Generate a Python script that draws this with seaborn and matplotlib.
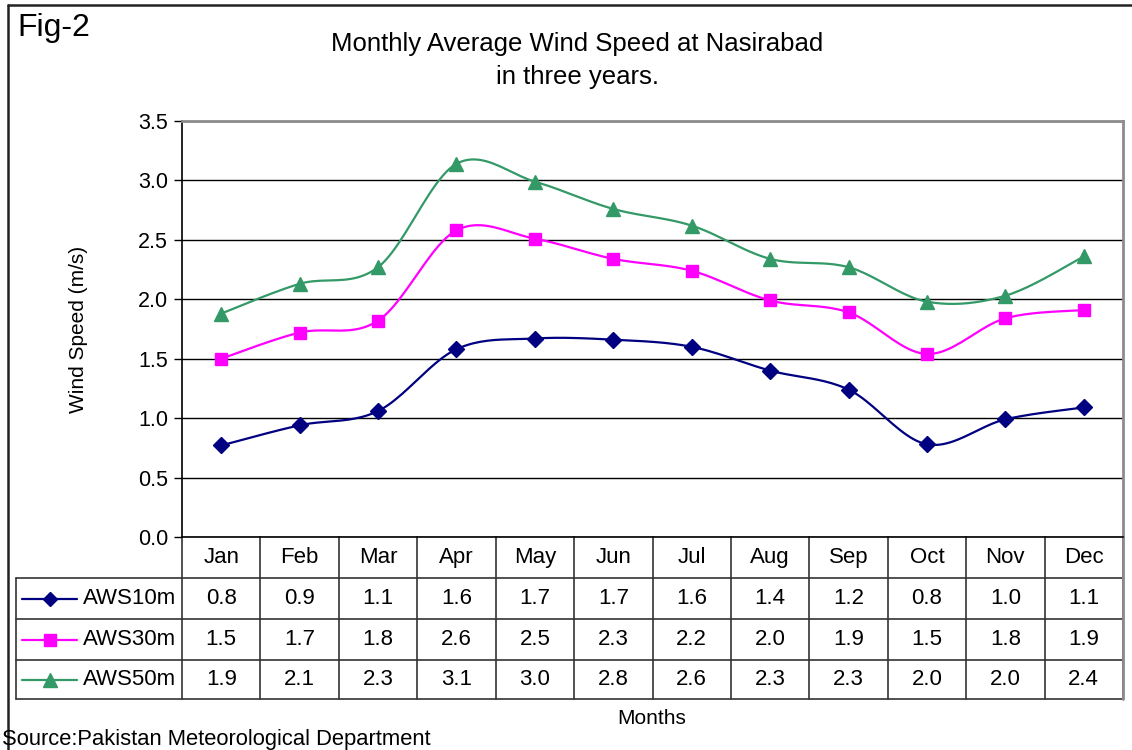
import numpy as np
import matplotlib
matplotlib.use("Agg")
import matplotlib.pyplot as plt
import matplotlib.transforms as mtransforms
import seaborn as sns

months = ["Jan", "Feb", "Mar", "Apr", "May", "Jun", "Jul", "Aug", "Sep", "Oct", "Nov", "Dec"]
aws10 = [0.77, 0.94, 1.06, 1.58, 1.67, 1.66, 1.60, 1.40, 1.24, 0.78, 0.99, 1.09]
aws30 = [1.50, 1.72, 1.82, 2.58, 2.51, 2.34, 2.24, 1.99, 1.89, 1.54, 1.84, 1.91]
aws50 = [1.88, 2.13, 2.27, 3.14, 2.99, 2.76, 2.62, 2.34, 2.27, 1.98, 2.03, 2.36]
series_names = ["AWS10m", "AWS30m", "AWS50m"]
series_vals = [aws10, aws30, aws50]
series_colors = ["#000080", "#FF00FF", "#339966"]
series_markers = ["D", "s", "^"]
yticks = [0.0, 0.5, 1.0, 1.5, 2.0, 2.5, 3.0, 3.5]

sns.set_theme(style="white")
plt.rcParams["font.family"] = ["Liberation Sans", "DejaVu Sans"]
plt.rcParams["text.color"] = "black"
plt.rcParams["axes.labelcolor"] = "black"
plt.rcParams["ytick.color"] = "black"

W, H = 1132, 750
fig = plt.figure(figsize=(W / 100, H / 100), dpi=100)

def rect(x0, y0, x1, y1):
    return [x0 / W, 1 - y1 / H, (x1 - x0) / W, (y1 - y0) / H]

# overlay in pixel coordinates for frame, table and texts
ov = fig.add_axes([0, 0, 1, 1], zorder=0)
ov.set_xlim(0, W)
ov.set_ylim(H, 0)
ov.axis("off")

ax = fig.add_axes(rect(182, 121, 1123, 537), zorder=2)
ax.patch.set_alpha(0)


def smooth(y, n=24):
    # Excel-style smoothed line (bezier with 1/6 tangents)
    x = np.arange(len(y), dtype=float)
    y = np.asarray(y, dtype=float)
    px = np.concatenate([[x[0]], x, [x[-1]]])
    py = np.concatenate([[y[0]], y, [y[-1]]])
    t = np.linspace(0, 1, n)
    xs, ys = [], []
    for i in range(1, len(px) - 2):
        p0 = np.array([px[i], py[i]])
        p3 = np.array([px[i + 1], py[i + 1]])
        c1 = p0 + (np.array([px[i + 1], py[i + 1]]) - np.array([px[i - 1], py[i - 1]])) / 6
        c2 = p3 - (np.array([px[i + 2], py[i + 2]]) - p0) / 6
        b = ((1 - t) ** 3)[:, None] * p0 + (3 * (1 - t) ** 2 * t)[:, None] * c1 \
            + (3 * (1 - t) * t ** 2)[:, None] * c2 + (t ** 3)[:, None] * p3
        xs.append(b[:, 0])
        ys.append(b[:, 1])
    return np.concatenate(xs), np.concatenate(ys)


msizes = [8, 8.5, 10]
for name, vals, c, m, ms in zip(series_names, series_vals, series_colors, series_markers, msizes):
    sx, sy = smooth(vals)
    sns.lineplot(x=sx, y=sy, ax=ax, color=c, lw=1.6, sort=False, estimator=None)
    ax.plot(np.arange(len(vals)), vals, ls="none", marker=m, color=c, ms=ms, zorder=3)

ax.set_xlim(-0.5, len(months) - 0.5)
ax.set_ylim(0, 3.5)
ax.set_yticks(yticks)
ax.set_yticklabels([f"{v:.1f}" for v in yticks], fontsize=15.5)
ax.yaxis.grid(True, color="#000000", lw=1)
ax.set_xticks(np.arange(len(months) + 1) - 0.5)
ax.set_xticklabels([])
ax.tick_params(axis="y", length=6, width=1, color="black", left=True, pad=4)
ax.tick_params(axis="x", length=0)
for s in ["left", "bottom"]:
    ax.spines[s].set_color("black")
    ax.spines[s].set_linewidth(1.2)
for s in ["top", "right"]:
    ax.spines[s].set_color("#8c8c8c")
    ax.spines[s].set_linewidth(2)
ax.set_ylabel("")
ax.set_xlabel("")

# data table under the plot: x in data units, y in pixels
tr = mtransforms.blended_transform_factory(ax.transData, ov.transData)
lc = "#333333"
row_edges = [537, 578, 619, 660, 699]
x_left_px = 16
fs = 16
for k in range(len(months) + 1):
    ov.plot([k - 0.5, k - 0.5], [row_edges[0], row_edges[-1]], color=lc, lw=1.2,
            transform=tr, clip_on=False)
for yy in row_edges[1:]:
    ov.plot([x_left_px, 1123], [yy, yy], color=lc, lw=1.2)
ov.plot([x_left_px, x_left_px], [row_edges[1], row_edges[-1]], color=lc, lw=1.2)
ov.plot([1123, 1123], [row_edges[0], row_edges[-1]], color="#8c8c8c", lw=2)

for k, mth in enumerate(months):
    ov.text(k, (row_edges[0] + row_edges[1]) / 2, mth, transform=tr, ha="center",
            va="center", fontsize=fs)
for r, (name, vals, c, m, ms) in enumerate(zip(series_names, series_vals, series_colors,
                                                series_markers, msizes)):
    yc = (row_edges[r + 1] + row_edges[r + 2]) / 2
    for k, v in enumerate(vals):
        ov.text(k, yc, f"{v:.1f}", transform=tr, ha="center", va="center", fontsize=fs)
    ov.plot([22, 77], [yc, yc], color=c, lw=1.6)
    ov.plot([49.5], [yc], marker=m, color=c, ms=ms * 0.95, ls="none")
    ov.text(83, yc, name, ha="left", va="center", fontsize=fs)

# frame and texts
ov.plot([8, 8], [5, H], color="#222222", lw=1.8)
ov.plot([8, W], [5, 5], color="#222222", lw=1.8)
ov.text(17, 28, "Fig-2", fontsize=23, ha="left", va="center")
ov.text(577, 44, "Monthly Average Wind Speed at Nasirabad", fontsize=18.5, ha="center", va="center")
ov.text(577, 77, "in three years.", fontsize=18.5, ha="center", va="center")
ov.text(78, 329, "Wind Speed (m/s)", fontsize=15, ha="center", va="center", rotation=90)
ov.text(652, 718, "Months", fontsize=15, ha="center", va="center")
ov.text(2, 740, "Source:Pakistan Meteorological Department", fontsize=15.8, ha="left", va="center")

fig.savefig("out.png", dpi=100)
